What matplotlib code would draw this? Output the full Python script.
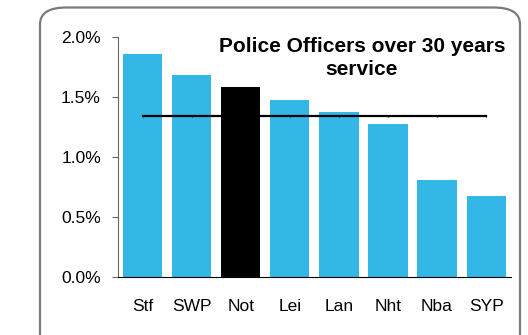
import matplotlib.pyplot as plt
from matplotlib.patches import FancyBboxPatch
from matplotlib.ticker import FuncFormatter

plt.rcParams['font.family'] = ['Liberation Sans', 'DejaVu Sans']

# Chart data
forces = ["Stf", "SWP", "Not", "Lei", "Lan", "Nht", "Nba", "SYP"]
pct_over_30 = [1.86, 1.68, 1.58, 1.47, 1.37, 1.27, 0.81, 0.675]
average = 1.34
highlight = "Not"

bar_blue = "#33B7E7"
colors = ["black" if f == highlight else bar_blue for f in forces]

fig = plt.figure(figsize=(5.28, 3.35), dpi=100)

# rounded border around the chart area
border = FancyBboxPatch((40 / 528, -0.2), 480 / 528, 1.2 - 7.5 / 335,
                        boxstyle="round,pad=0,rounding_size=0.05",
                        transform=fig.transFigure, facecolor="none",
                        edgecolor="#7a7a7a", linewidth=1.6, clip_on=False)
fig.patches.append(border)

ax = fig.add_axes([0.2235, 0.1731, 0.7437, 0.7174])
x = range(len(forces))
ax.bar(x, pct_over_30, width=0.8, color=colors, zorder=2)
ax.plot(x, [average] * len(forces), color="black", linewidth=1.6,
        marker="|", markersize=2, markeredgewidth=0.8, zorder=3)

ax.set_xlim(-0.5, len(forces) - 0.5)
ax.set_ylim(0, 2.0)
ax.set_yticks([0, 0.5, 1.0, 1.5, 2.0])
ax.yaxis.set_major_formatter(FuncFormatter(lambda v, p: f"{v:.1f}%"))
ax.set_xticks(list(x))
ax.set_xticklabels(forces)

for s in ["top", "right"]:
    ax.spines[s].set_visible(False)
ax.spines["left"].set_color("#666666")
ax.spines["bottom"].set_color("black")
ax.tick_params(axis="y", length=4.3, color="#666666", labelsize=12.5, pad=8)
ax.tick_params(axis="x", length=0, labelsize=12.5, pad=16)

fig.text(362 / 528, 1 - 58 / 335, "Police Officers over 30 years\nservice",
         ha="center", va="center", fontsize=15, fontweight="bold",
         linespacing=1.3)

fig.savefig("out.png", dpi=100)
